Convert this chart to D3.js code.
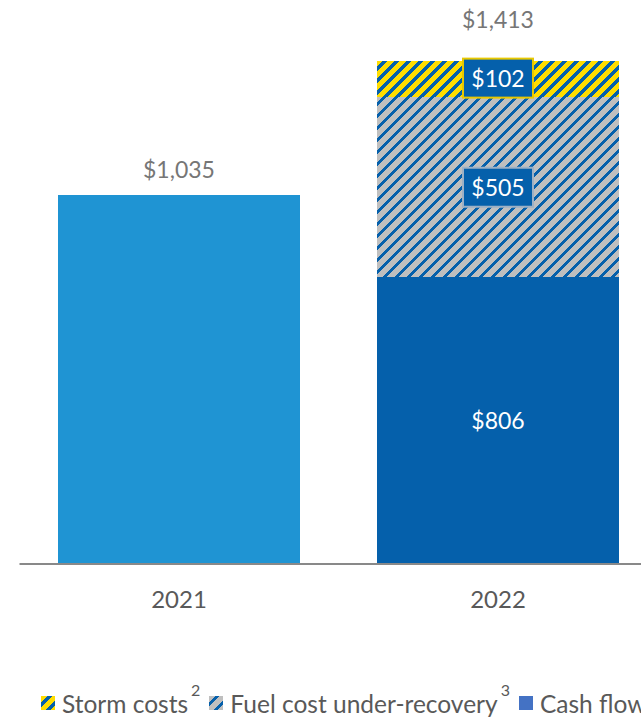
<!DOCTYPE html>
<html><head><meta charset="utf-8">
<script src="https://cdn.jsdelivr.net/npm/d3@7"></script>
<style>
html,body{margin:0;padding:0;background:#fff;overflow:hidden;}
text{font-family:Lato,"Open Sans",sans-serif;}
</style></head>
<body>
<svg id="chart" width="641" height="717"></svg>
<script>
const years = ["2021", "2022"];
const cashFlow = [1035, 806];
const fuelCost = [0, 505];
const stormCosts = [0, 102];
const totals = [1035, 1413];
const legendLabels = ["Storm costs", "Fuel cost under-recovery", "Cash flow"];
const legendSup = ["2", "3", ""];

const W = 641, H = 717;
const svg = d3.select("#chart");
const defs = svg.append("defs");

function hatch(id, bg, fg, period, thick) {
  const p = defs.append("pattern").attr("id", id).attr("patternUnits", "userSpaceOnUse")
    .attr("width", period).attr("height", period);
  p.append("rect").attr("width", period).attr("height", period).attr("fill", bg);
  for (let r = 0; r < period; r++) {
    for (let k = 0; k < thick; k++) {
      const c = (period - 1 - r + k + period) % period;
      p.append("rect").attr("x", c).attr("y", r).attr("width", 1).attr("height", 1)
        .attr("fill", fg).attr("shape-rendering", "crispEdges");
    }
  }
}
hatch("hYellow", "#FFDD00", "#0560AB", 12, 5);
hatch("hGray", "#BFBFBF", "#0560AB", 12, 4);

const x = d3.scaleBand().domain(years).range([19.5, 657.5]).paddingInner(0.241).paddingOuter(0.1205);
const y = d3.scaleLinear().domain([0, 1600]).range([563, 563 - 1600 * 0.35527]);

const colors2021 = "#1F94D3";
const darkBlue = "#0560AB";

const stackData = years.map((yr, i) => ({ year: yr, cash: cashFlow[i], fuel: fuelCost[i], storm: stormCosts[i] }));
const stack = d3.stack().keys(["cash", "fuel", "storm"])(stackData);
const fills = {
  cash: (d) => d.data.year === "2021" ? colors2021 : darkBlue,
  fuel: () => "url(#hGray)",
  storm: () => "url(#hYellow)"
};

stack.forEach(layer => {
  svg.append("g").selectAll("rect").data(layer.filter(d => d[1] - d[0] > 0)).join("rect")
    .attr("x", d => x(d.data.year))
    .attr("width", x.bandwidth())
    .attr("y", d => y(d[1]))
    .attr("height", d => y(d[0]) - y(d[1]))
    .attr("fill", d => fills[layer.key](d))
    .attr("shape-rendering", "crispEdges");
});

// axis line
svg.append("line").attr("x1", 19.5).attr("x2", W).attr("y1", 564).attr("y2", 564)
  .attr("stroke", "#898989").attr("stroke-width", 2);

// year labels
svg.append("g").selectAll("text").data(years).join("text")
  .attr("x", d => x(d) + x.bandwidth() / 2).attr("y", 608)
  .attr("text-anchor", "middle").attr("font-size", 24).attr("fill", "#595959")
  .text(d => d);

// total labels
const fmt = v => "$" + d3.format(",")(v);
const totalGap = [17, 33];
svg.append("g").selectAll("text").data(years).join("text")
  .attr("x", d => x(d) + x.bandwidth() / 2)
  .attr("y", (d, i) => y(totals[i]) - totalGap[i])
  .attr("text-anchor", "middle").attr("font-size", 23).attr("fill", "#767676")
  .text((d, i) => fmt(totals[i]));

// segment labels for 2022
const cx = x("2022") + x.bandwidth() / 2;
const i2 = 1;
svg.append("text").attr("x", cx).attr("y", y(cashFlow[i2] / 2) + 9)
  .attr("text-anchor", "middle").attr("font-size", 23).attr("fill", "#fff").text(fmt(cashFlow[i2]));

function boxLabel(val, yc, stroke) {
  const g = svg.append("g");
  g.append("rect").attr("x", cx - 35).attr("y", yc - 19.5).attr("width", 70).attr("height", 39)
    .attr("fill", darkBlue).attr("stroke", stroke).attr("stroke-width", 2);
  g.append("text").attr("x", cx).attr("y", yc + 8.5).attr("text-anchor", "middle")
    .attr("font-size", 23).attr("fill", "#fff").text(fmt(val));
}
boxLabel(fuelCost[i2], y(cashFlow[i2] + fuelCost[i2]) + 90, "#9DB1C6");
boxLabel(stormCosts[i2], y(cashFlow[i2] + fuelCost[i2] + stormCosts[i2] / 2) - 1, "#E8C800");

// legend
const leg = svg.append("g");
const legFills = ["url(#hYellow)", "url(#hGray)", "#4472C4"];
let lx = 41;
legendLabels.forEach((lab, i) => {
  leg.append("rect").attr("x", lx).attr("y", 696).attr("width", 14).attr("height", 14)
    .attr("fill", legFills[i]).attr("shape-rendering", "crispEdges");
  const t = leg.append("text").attr("x", lx + 21).attr("y", 713).attr("font-size", 24.5).attr("fill", "#595959");
  t.append("tspan").text(lab);
  if (legendSup[i]) t.append("tspan").attr("font-size", 16).attr("dx", 3).attr("dy", -17).text(legendSup[i]);
  const bb = t.node().getBBox();
  lx = bb.x + bb.width + 9;
});
</script>
</body></html>
